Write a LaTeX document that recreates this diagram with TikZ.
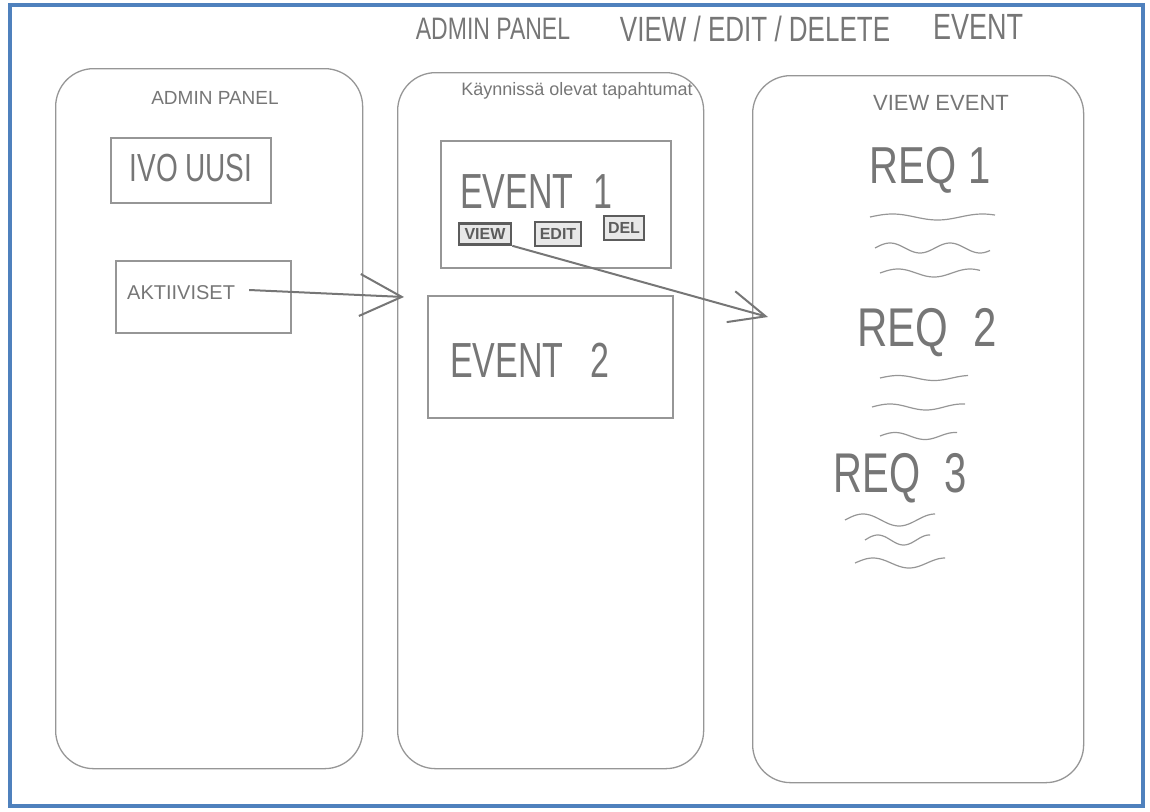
\documentclass[tikz,border=0pt]{standalone}
\usepackage{fontspec}
\setmainfont{Liberation Sans}
\usetikzlibrary{arrows.meta}
\definecolor{pencil}{RGB}{150,150,150}
\definecolor{lead}{RGB}{118,118,118}
\definecolor{darklead}{RGB}{92,92,92}
\definecolor{frameblue}{RGB}{79,129,189}
\newcommand\tallt[2][1.35]{\scalebox{1}[#1]{#2}}
\newcommand\fs[1]{\fontsize{#1}{#1}\selectfont}
\newcommand\squiggle[5]{\draw[wave] plot[domain=0:#3,samples=60,smooth] ({#1+\x},{#2+#4*sin(#5*\x)});}
\tikzset{
  panel/.style={draw=pencil, line width=1.3pt, rounded corners=38pt, anchor=north west, inner sep=0},
  sbox/.style={draw=pencil, line width=2pt, anchor=north west, inner sep=0},
  btn/.style={draw=darklead, line width=2.6pt, fill=gray!18, text=darklead, inner sep=0, font=\bfseries\fs{16}},
  hand/.style={text=lead, inner sep=0},
  sketcharrow/.style={draw=lead, line width=2pt, -{Straight Barb[length=42pt,width=42pt,line width=2pt]}},
  wave/.style={draw=pencil, line width=1.2pt},
}
\begin{document}
\begin{tikzpicture}[x=1pt,y=1pt]
\useasboundingbox (0,0) rectangle (1150,-811);
\draw[frameblue, line width=4pt] (10,-5) rectangle (1143,-806);

% title
\node[hand, font=\fs{23}] (t1) at (493,-29) {\tallt{ADMIN PANEL}};
\node[hand, font=\fs{26}] (t2) at (755,-29) {\tallt{VIEW / EDIT / DELETE}};
\node[hand, font=\fs{27}] (t3) at (978,-27) {\tallt{EVENT}};

% panels
\node[panel, minimum width=307pt, minimum height=700pt] (p1) at (55,-68) {};
\node[panel, minimum width=306pt, minimum height=696pt] (p2) at (397,-72) {};
\node[panel, minimum width=331pt, minimum height=707pt] (p3) at (752,-75) {};

% panel 1
\node[hand, font=\fs{19}] (p1title) at (215,-98) {ADMIN PANEL};
\node[sbox, minimum width=160pt, minimum height=65pt] (newbox) at (110,-137) {};
\node[hand, font=\fs{28}] (newtxt) at (191,-168) {\tallt[1.4]{IVO UUSI}};
\node[sbox, minimum width=175pt, minimum height=72pt] (aktivbox) at (115,-260) {};
\node[hand, font=\fs{20}, anchor=west] (aktivtxt) at (127,-293) {AKTIIVISET};

% panel 2
\node[hand, font=\fs{18}] (p2title) at (577,-91) {Käynnissä olevat tapahtumat};
\node[sbox, minimum width=230pt, minimum height=127pt] (ev1) at (440,-140) {};
\node[hand, font=\fs{34}, anchor=west] (ev1txt) at (460,-192) {\tallt[1.45]{EVENT\hspace{0.6em}1}};
\node[btn, minimum width=52pt, minimum height=21pt] (view) at (485,-234) {VIEW};
\node[btn, minimum width=46pt, minimum height=24pt] (edit) at (558,-234) {EDIT};
\node[btn, minimum width=40pt, minimum height=24pt] (del) at (624,-228) {DEL};
\node[sbox, minimum width=245pt, minimum height=122pt] (ev2) at (427,-295) {};
\node[hand, font=\fs{34}, anchor=west] (ev2txt) at (450,-360) {\tallt[1.45]{EVENT\hspace{0.8em}2}};

% panel 3
\node[hand, font=\fs{22}] (p3title) at (941,-103) {VIEW EVENT};
\node[hand, font=\fs{40}] (req1) at (930,-170) {\tallt[1.3]{REQ\hspace{0.3em}1}};
\node[hand, font=\fs{42}] (req2) at (927,-333) {\tallt[1.3]{REQ\hspace{0.6em}2}};
\node[hand, font=\fs{40}] (req3) at (900,-478) {\tallt[1.4]{REQ\hspace{0.6em}3}};

\squiggle{870}{-217}{125}{3}{4}
\squiggle{875}{-248}{115}{5}{6}
\squiggle{880}{-273}{100}{4}{5}
\squiggle{880}{-378}{88}{2.5}{5}
\squiggle{872}{-407}{93}{3}{5}
\squiggle{880}{-436}{77}{3.5}{6}
\squiggle{845}{-520}{90}{6}{5}
\squiggle{865}{-540}{65}{5}{7}
\squiggle{855}{-563}{90}{5}{5}

% connectors
\coordinate (a1end) at (404,-297);
\coordinate (a2end) at (768,-317);
\draw[sketcharrow] ([xshift=14pt,yshift=3pt]aktivtxt.east) -- (a1end);
\draw[sketcharrow, -{Straight Barb[length=36pt,width=32pt,line width=2pt]}] (view.south east) -- (a2end);
\end{tikzpicture}
\end{document}
